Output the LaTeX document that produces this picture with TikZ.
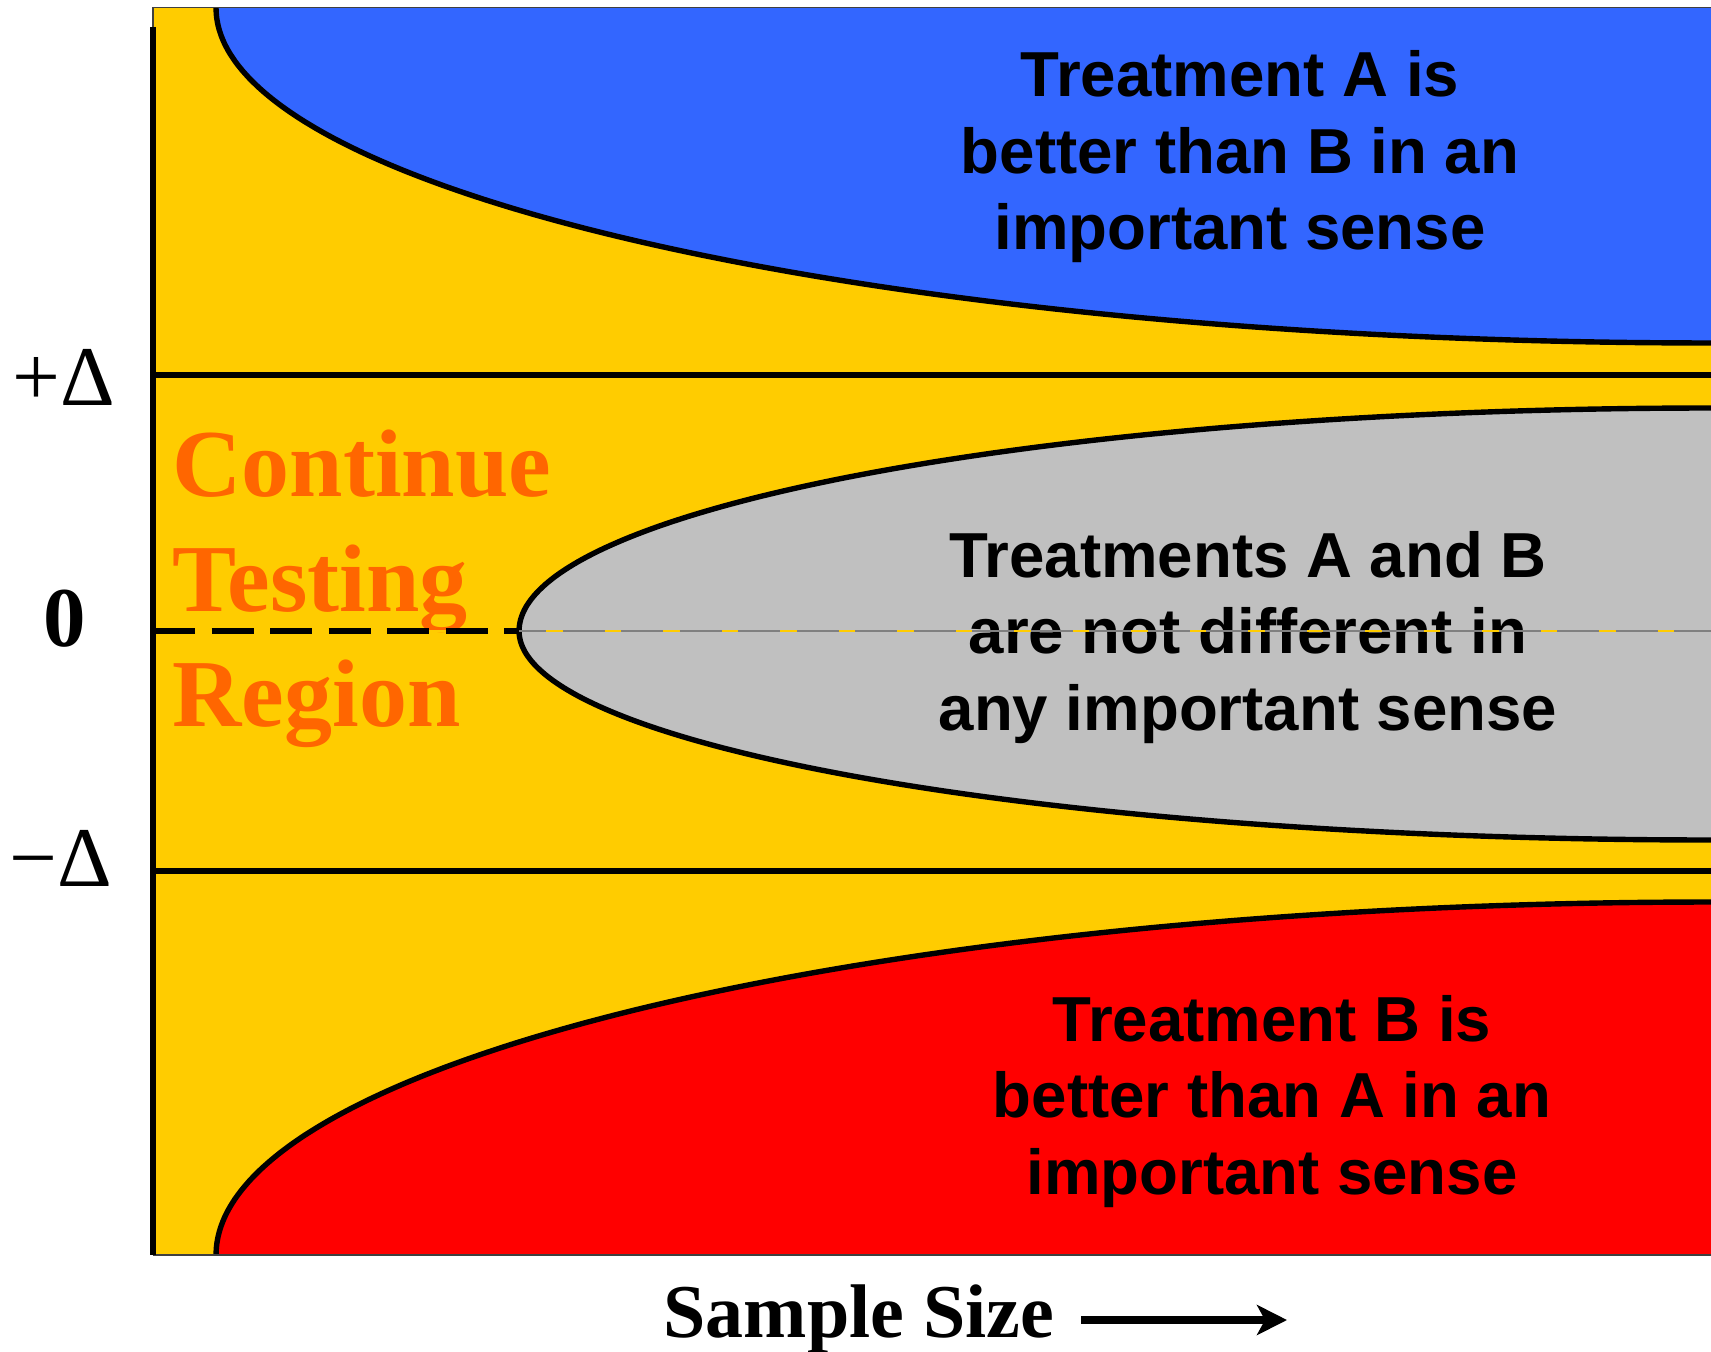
\documentclass[tikz,border=0pt]{standalone}
\usepackage{fontspec}
\setmainfont{Liberation Serif}
\newfontfamily\sansb{Liberation Sans}
\usetikzlibrary{arrows.meta}
\definecolor{regyellow}{HTML}{FFCC00}
\definecolor{regblue}{HTML}{3366FF}
\definecolor{reggray}{HTML}{C0C0C0}
\definecolor{regred}{HTML}{FF0000}
\definecolor{regorange}{HTML}{FF6600}
\begin{document}
\begin{tikzpicture}[x=0.5pt,y=-0.5pt,
  edge/.style={line width=2.7pt, black},
  border/.style={line width=0.8pt, black!75},
  boxtext/.style={font=\sansb\bfseries\fontsize{31.8}{38.25}\selectfont, align=center, inner sep=0pt, anchor=base},
  axislabel/.style={font=\fontsize{42.5}{50}\selectfont, inner sep=0pt, anchor=base west},
  regiontext/.style={font=\bfseries\fontsize{48}{57.5}\selectfont, text=regorange, align=left, inner sep=0pt, anchor=base west},
]
\useasboundingbox (0,0) rectangle (1711,1352);
% background region
\fill[regyellow] (153,7.6) rectangle (1711,1255);
% blue region
\fill[regblue] plot[domain=90:0, samples=150, variable=\t] ({1711-1495*sin(\t)},{8+335*cos(\t)}) -- (1711,8) -- cycle;
\draw[edge] plot[domain=90:0, samples=150, variable=\t] ({1711-1495*sin(\t)},{8+335*cos(\t)});
% gray region
\fill[reggray] plot[domain=0:90, samples=120, variable=\t] ({1711-1192*sin(\t)},{631-223*cos(\t)})
  -- plot[domain=90:0, samples=120, variable=\t] ({1711-1192*sin(\t)},{631+209*cos(\t)}) -- cycle;
\draw[edge] plot[domain=0:90, samples=120, variable=\t] ({1711-1192*sin(\t)},{631-223*cos(\t)})
  -- plot[domain=90:0, samples=120, variable=\t] ({1711-1192*sin(\t)},{631+209*cos(\t)});
% red region
\fill[regred] plot[domain=90:0, samples=150, variable=\t] ({1711-1495*sin(\t)},{1255-353*cos(\t)}) -- (1711,1255) -- cycle;
\draw[edge] plot[domain=90:0, samples=150, variable=\t] ({1711-1495*sin(\t)},{1255-353*cos(\t)});
% frame borders
\draw[border] (153,1255) -- (153,7.6) -- (1711,7.6);
\draw[border] (153,1255) -- (1711,1255);
% delta lines and axis
\draw[edge] (153,375) -- (1711,375);
\draw[edge] (153,871) -- (1711,871);
\draw[edge] (153,27) -- (153,1255);
% texts (base anchor = baseline of the last line)
\node[boxtext] (better) at (1240,250) {Treatment A is\\better than B in an\\important sense};
\node[boxtext] (same) at (1248,730) {Treatments A and B\\are not different in\\any important sense};
\node[boxtext] (worse) at (1272,1194) {Treatment B is\\better than A in an\\important sense};
\node[regiontext] (cont) at (172,726) {Continue\\Testing\\Region};
% zero line
\draw[line width=0.6pt, regyellow] (153,631) -- (1711,631);
\draw[line width=0.6pt, black!50, dash pattern=on 21pt off 8.25pt] (153,631) -- (1711,631);
\draw[edge, dash pattern=on 21pt off 8.25pt] (153,631) -- (519,631);
% axis labels
\node[axislabel] (plusd) at (12,406) {+Δ};
\node[axislabel, font=\bfseries\fontsize{42.5}{50}\selectfont, anchor=base] (zero) at (65,646) {0};
\node[axislabel] (minusd) at (9,886) {−Δ};
\node[font=\bfseries\fontsize{38}{44}\selectfont, inner sep=0pt, anchor=base] (ss) at (859,1337) {Sample Size};
\coordinate (arrowstart) at (1081,1320);
\coordinate (arrowend) at (1287,1320);
\draw[line width=4pt, -{Stealth[length=15pt,width=15pt,inset=4pt]}] (arrowstart) -- (arrowend);
\end{tikzpicture}
\end{document}
